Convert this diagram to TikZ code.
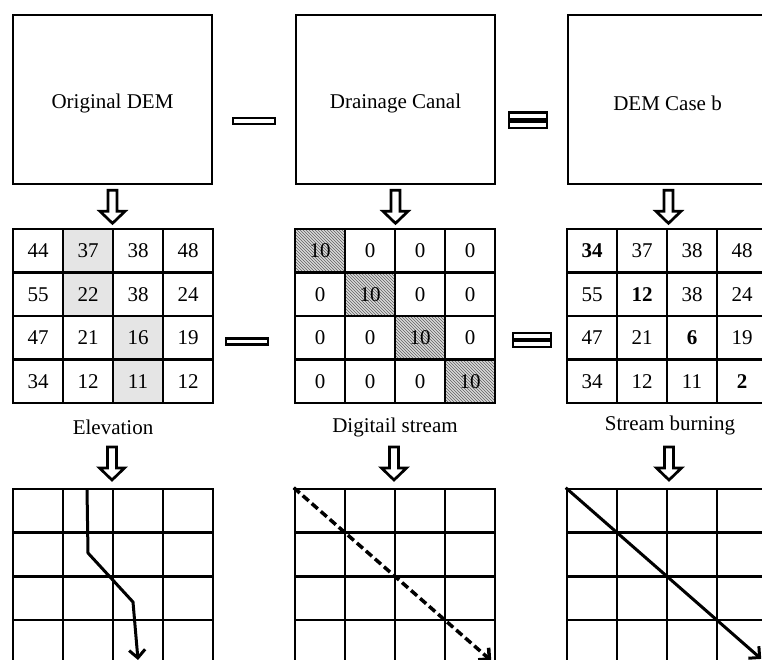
\documentclass[tikz,border=0pt]{standalone}
\usepackage{fontspec}
\setmainfont{Liberation Serif}
\usetikzlibrary{patterns,arrows.meta,calc}
\begin{document}
\begin{tikzpicture}[x=1pt,y=-1pt,
  every node/.style={font=\fontsize{21}{25}\selectfont, inner sep=0pt},
  every label/.style={font=\fontsize{21}{25}\selectfont, inner sep=0pt},
  topbox/.style={draw, line width=2.6pt, minimum width=199pt, minimum height=169pt},
  pcell/.style={draw, line width=2.6pt, minimum width=50pt, minimum height=43.5pt},
  lcell/.style={pcell, fill=gray!20},
  hcell/.style={pcell, preaction={fill=gray!30}, pattern=north west lines, pattern color=gray!75!black},
  bcell/.style={pcell, font=\fontsize{21}{25}\selectfont\bfseries},
  ecell/.style={draw, line width=2.6pt, minimum width=50pt, minimum height=43.7pt},
  opbox/.style={draw, fill=white, line width=2.4pt, minimum width=41.6pt, minimum height=5.8pt},
  eqbox/.style={draw, fill=white, line width=2.4pt, minimum width=37.6pt, minimum height=6.4pt},
  blk/.style={draw, fill=white, line width=2.7pt, line join=miter},
  flow/.style={line width=3pt, -{Straight Barb[length=8pt,width=16pt]}},
  downarrow/.pic={\draw[blk] (-4.5,0) -- (4.5,0) -- (4.5,21) -- (12.5,21) -- (0,33) -- (-12.5,21) -- (-4.5,21) -- cycle;}
]
\useasboundingbox (0,0) rectangle (762,659);
\clip (0,0) rectangle (762,659);
\fill[white] (0,0) rectangle (762,659);

% top boxes
\node[topbox, label={[yshift=-4pt]center:Original DEM}] (b1) at (112.5,99.5) {};
\node[topbox, label={[yshift=-4pt]center:Drainage Canal}] (b2) at (395.5,99.5) {};
\node[topbox, label={[yshift=-4pt]center:DEM Case b}] (b3) at (667.5,99.5) {};

% operators row 1
\node[opbox] (m1) at (254,121) {};
\node[eqbox] (q1a) at (528,115.5) {};
\node[eqbox] (q1b) at (528,124.5) {};

% arrows row 1
\pic (a1) at ($(b1.south)+(0,5)$) {downarrow};
\pic (a2) at ($(b2.south)+(0,5)$) {downarrow};
\pic (a3) at ($(b3.south)+(1,5)$) {downarrow};

% grid 1: elevation
\foreach \v/\s [count=\k from 0] in {44/pcell,37/lcell,38/pcell,48/pcell,55/pcell,22/lcell,38/pcell,24/pcell,47/pcell,21/pcell,16/lcell,19/pcell,34/pcell,12/pcell,11/lcell,12/pcell} {
  \pgfmathtruncatemacro\r{\k/4}
  \pgfmathtruncatemacro\c{mod(\k,4)}
  \node[\s] (e-\k) at ({38+50*\c},{250.75+43.5*\r}) {\v};
}
% grid 2: digital stream
\foreach \v/\s [count=\k from 0] in {10/hcell,0/pcell,0/pcell,0/pcell,0/pcell,10/hcell,0/pcell,0/pcell,0/pcell,0/pcell,10/hcell,0/pcell,0/pcell,0/pcell,0/pcell,10/hcell} {
  \pgfmathtruncatemacro\r{\k/4}
  \pgfmathtruncatemacro\c{mod(\k,4)}
  \node[\s] (d-\k) at ({320+50*\c},{250.75+43.5*\r}) {\v};
}
% grid 3: stream burning
\foreach \v/\s [count=\k from 0] in {34/bcell,37/pcell,38/pcell,48/pcell,55/pcell,12/bcell,38/pcell,24/pcell,47/pcell,21/pcell,6/bcell,19/pcell,34/pcell,12/pcell,11/pcell,2/bcell} {
  \pgfmathtruncatemacro\r{\k/4}
  \pgfmathtruncatemacro\c{mod(\k,4)}
  \node[\s] (c-\k) at ({592+50*\c},{250.75+43.5*\r}) {\v};
}

% operators row 2
\node[opbox] (m2) at (247,341.5) {};
\node[eqbox] (q2a) at (532,336) {};
\node[eqbox] (q2b) at (532,343.5) {};

% labels
\node (l1) at (113,427) {Elevation};
\node (l2) at (395,427) {Digitail stream};
\node (l3) at (670,425) {Stream burning};

% arrows row 2
\pic (a4) at (112,447) {downarrow};
\pic (a5) at (394,447) {downarrow};
\pic (a6) at (669,447) {downarrow};

% bottom grids
\foreach \k in {0,...,15} {
  \pgfmathtruncatemacro\r{\k/4}
  \pgfmathtruncatemacro\c{mod(\k,4)}
  \node[ecell] (s1-\k) at ({38+50*\c},{510.85+43.7*\r}) {};
  \node[ecell] (s2-\k) at ({320+50*\c},{510.85+43.7*\r}) {};
  \node[ecell] (s3-\k) at ({592+50*\c},{510.85+43.7*\r}) {};
}

% flow paths
\coordinate (p1) at (87,489);
\coordinate (p2) at (88,553);
\coordinate (p3) at (133,602);
\coordinate (p4) at (138,660);
\draw[flow] (p1) -- (p2) -- (p3) -- (p4);

\coordinate (d1) at (s2-0.north west);
\coordinate (d2) at ($(s2-0.north west)!0.975!(s2-15.south east)$);
\draw[flow, line width=3.5pt, dash pattern=on 8pt off 4pt] (d1) -- (d2);

\coordinate (c1) at (s3-0.north west);
\coordinate (c2) at ($(s3-0.north west)!0.965!(s3-15.south east)$);
\draw[flow] (c1) -- (c2);
\end{tikzpicture}
\end{document}
